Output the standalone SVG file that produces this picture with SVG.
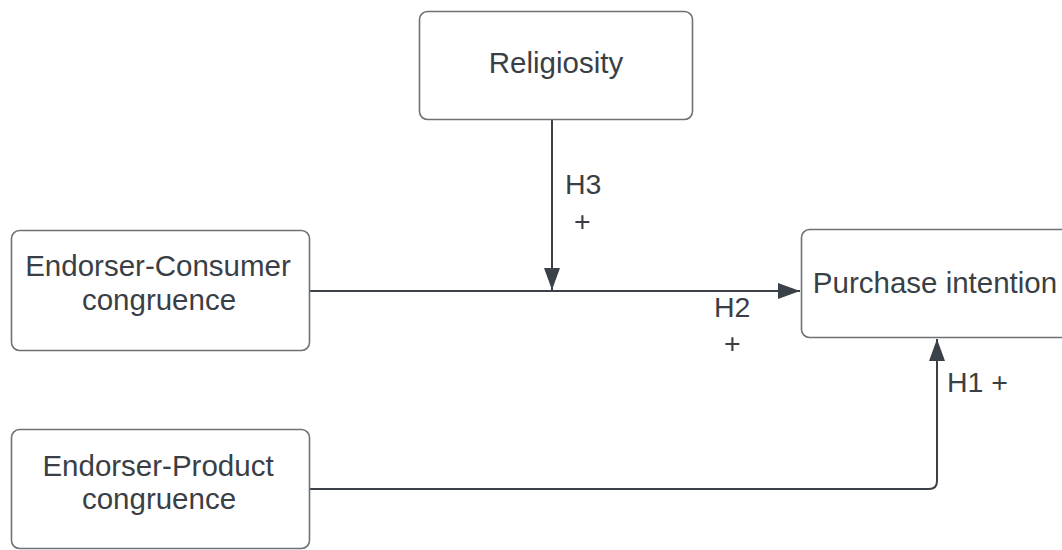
<svg xmlns="http://www.w3.org/2000/svg" width="1062" height="550" viewBox="0 0 1062 550">
<style>
.box{fill:#ffffff;stroke:#6e7277;stroke-width:1.6}
.t{font-family:"Liberation Sans",Arial,sans-serif;font-size:29.5px;fill:#3a3f45;text-anchor:middle}
.l{font-family:"Liberation Sans",Arial,sans-serif;font-size:28.5px;fill:#3a3f45}
.c{fill:none;stroke:#3b4148;stroke-width:2}
</style>
<defs>
<marker id="ah" markerWidth="22" markerHeight="16" refX="22" refY="8" orient="auto" markerUnits="userSpaceOnUse">
<path d="M0,0 L22,8 L0,16 Z" fill="#3b4148"/>
</marker>
</defs>
<rect width="1062" height="550" fill="#ffffff"/>
<g id="connectors">
<path class="c" d="M310,291 H800" marker-end="url(#ah)"/>
<path class="c" d="M552,120 V290" marker-end="url(#ah)"/>
<path class="c" d="M310,489 H929 Q937,489 937,481 V339" marker-end="url(#ah)"/>
</g>
<g id="religiosity">
<rect class="box" x="419.5" y="11.5" width="273" height="108" rx="8"/>
<text class="t" x="556" y="73">Religiosity</text>
</g>
<g id="endorser-consumer">
<rect class="box" x="11.5" y="230.5" width="298" height="120" rx="8"/>
<text class="t" x="158" y="276">Endorser-Consumer</text>
<text class="t" x="159" y="310">congruence</text>
</g>
<g id="endorser-product">
<rect class="box" x="11.5" y="429.5" width="298" height="119" rx="8"/>
<text class="t" x="158" y="476">Endorser-Product</text>
<text class="t" x="159" y="509">congruence</text>
</g>
<g id="purchase-intention">
<rect class="box" x="801.5" y="229.5" width="275" height="108" rx="8"/>
<text class="t" x="935" y="293">Purchase intention</text>
</g>
<g id="labels">
<text class="l" x="565" y="194">H3</text>
<text class="l" x="574" y="231">+</text>
<text class="l" x="714" y="317">H2</text>
<text class="l" x="724" y="353">+</text>
<text class="l" x="947" y="392">H1 +</text>
</g>
</svg>
